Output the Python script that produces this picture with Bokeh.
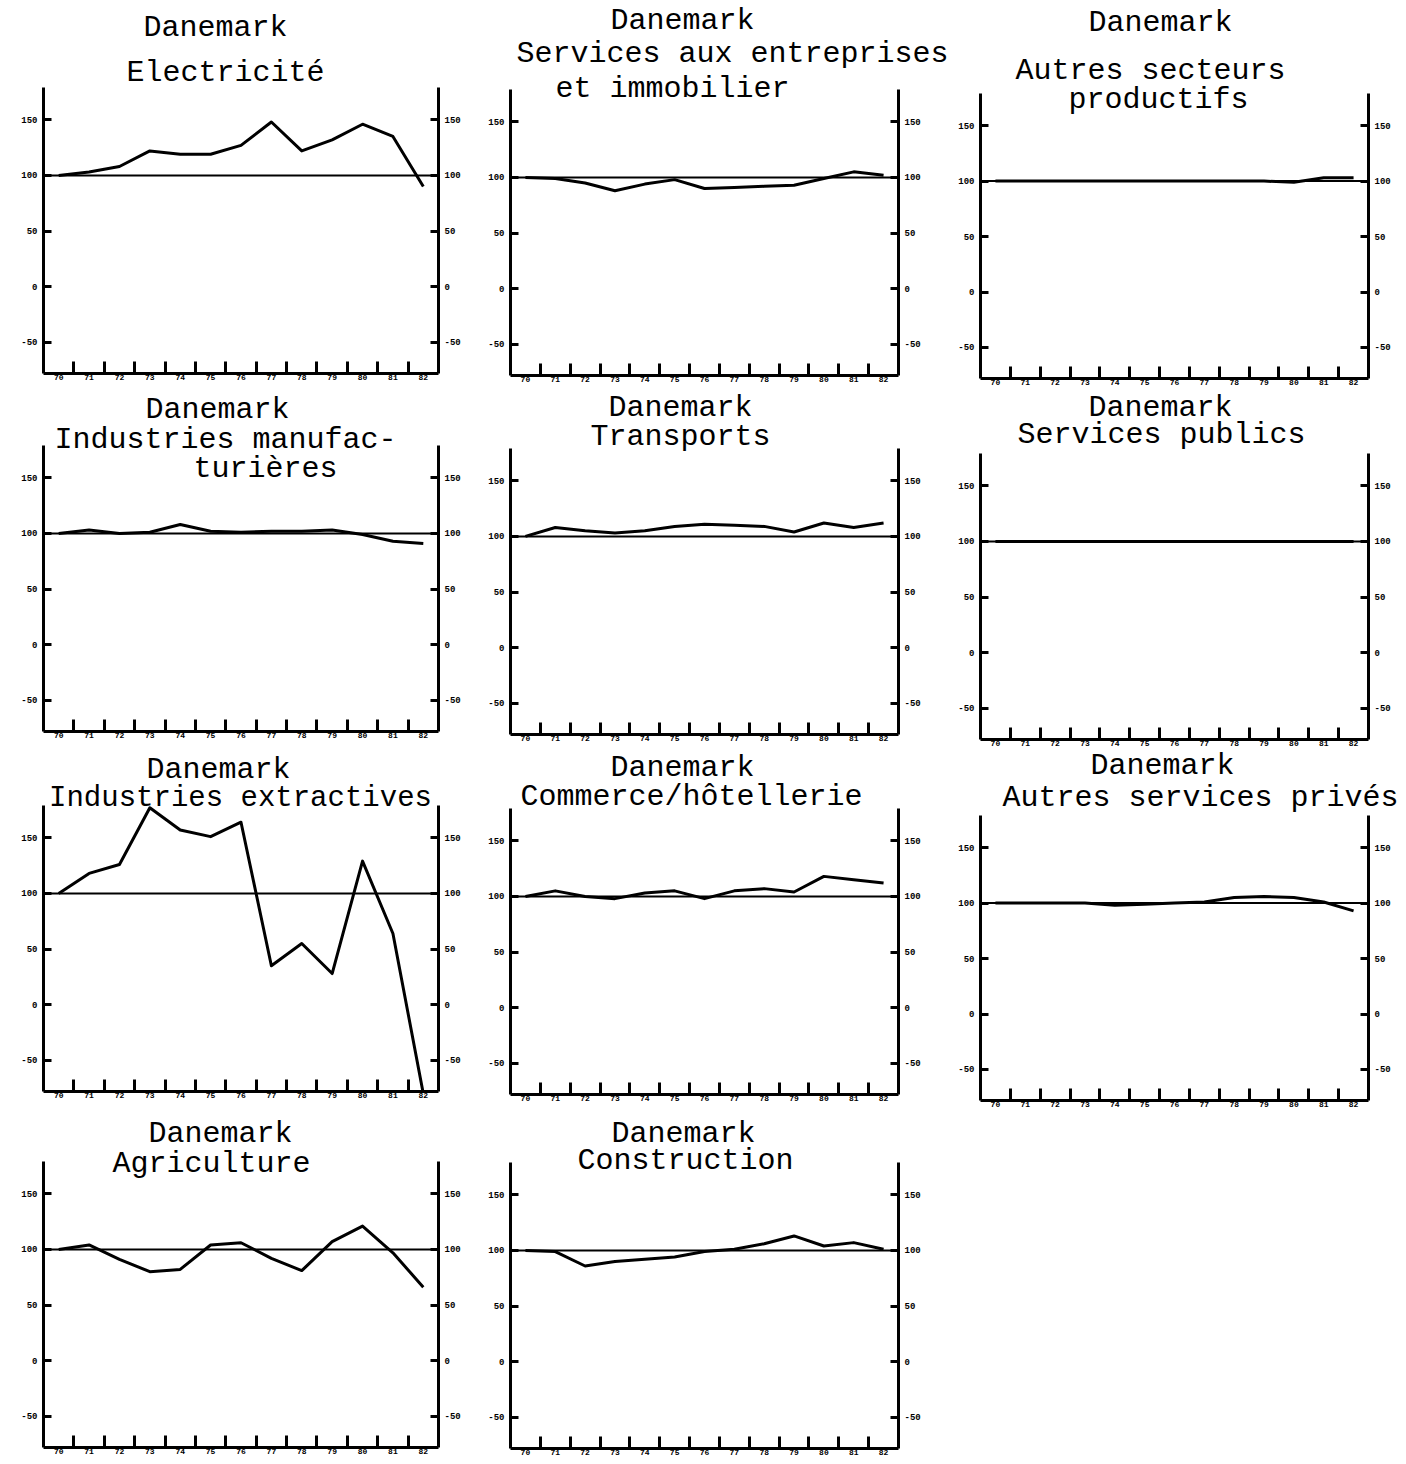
from bokeh.plotting import figure
from bokeh.layouts import row, column
from bokeh.models import LinearAxis, FixedTicker, Span, Label, Range1d, Title
from bokeh.embed import file_html
from bokeh.resources import INLINE

# ---------------- data ----------------
YEARS = [70, 71, 72, 73, 74, 75, 76, 77, 78, 79, 80, 81, 82]
YEAR_LABELS = ["70", "71", "72", "73", "74", "75", "76", "77", "78", "79", "80", "81", "82"]
Y_TICKS = [-50, 0, 50, 100, 150]
Y_TICK_LABELS = ["-50", "0", "50", "100", "150"]
COUNTRY = "Danemark"
BASE = 100

electricite = [100, 103, 108, 122, 119, 119, 127, 148, 122, 132, 146, 135, 90]
services_entreprises = [100, 99, 95, 88, 94, 98, 90, 91, 92, 93, 99, 105, 102]
autres_secteurs = [100, 100, 100, 100, 100, 100, 100, 100, 100, 100, 99, 103, 103]
manufacturieres = [100, 103, 100, 101, 108, 102, 101, 102, 102, 103, 99, 93, 91]
transports = [100, 108, 105, 103, 105, 109, 111, 110, 109, 104, 112, 108, 112]
services_publics = [100, 100, 100, 100, 100, 100, 100, 100, 100, 100, 100, 100, 100]
extractives = [100, 118, 126, 177, 157, 151, 164, 35, 55, 28, 129, 64, -80]
commerce = [100, 105, 100, 98, 103, 105, 98, 105, 107, 104, 118, 115, 112]
autres_services = [100, 100, 100, 100, 98, 99, 100, 101, 105, 106, 105, 101, 93]
agriculture = [100, 104, 91, 80, 82, 104, 106, 92, 81, 107, 121, 97, 66]
construction = [100, 99, 86, 90, 92, 94, 99, 101, 106, 113, 104, 107, 101]

T_ELEC = ["Electricité"]
T_SERV_ENT = ["Services aux entreprises", "et immobilier"]
T_AUTRES_SECT = ["Autres secteurs", "productifs"]
T_MANUF = ["Industries manufac-", "turières"]
T_TRANSP = ["Transports"]
T_PUBLICS = ["Services publics"]
T_EXTRACT = ["Industries extractives"]
T_COMMERCE = ["Commerce/hôtellerie"]
T_AUTRES_SERV = ["Autres services privés"]
T_AGRI = ["Agriculture"]
T_CONSTR = ["Construction"]

# ---------------- layout / style ----------------
FONT = "Liberation Mono"
F = "30px"
CHAR_W = 18          # advance of one 30px monospace character
X_RANGE = (69.5, 82.5)
Y_LO, Y_HI = -78, 179

COL_W = [474, 481, 449]
COL_BL = [43, 36, 25]
COL_BR = [36, 57, 36]


def style_axis(ax, tick_len, font_size):
    ax.axis_line_width = 3
    ax.axis_line_color = "black"
    ax.major_tick_line_width = 3
    ax.major_tick_line_color = "black"
    ax.major_tick_in = tick_len
    ax.major_tick_out = 0
    ax.minor_tick_line_color = None
    ax.major_label_text_font = FONT
    ax.major_label_text_font_style = "bold"
    ax.major_label_text_font_size = font_size
    ax.major_label_text_color = "black"


def base_fig(width, height, x_range, y_range, bl, br, bt, bb):
    p = figure(width=width, height=height, x_range=x_range, y_range=y_range,
               output_backend="svg", toolbar_location=None,
               x_axis_location=None, y_axis_location=None,
               min_border_left=bl, min_border_right=br,
               min_border_top=bt, min_border_bottom=bb)
    p.title.text = ""
    p.title.visible = False
    p.outline_line_color = None
    p.xgrid.visible = False
    p.ygrid.visible = False
    p.background_fill_color = "white"
    p.border_fill_color = "white"
    return p


def side_title(txt, page_center_x, col, standoff):
    frame_left = sum(COL_W[:col]) + COL_BL[col]
    text_left = page_center_x - len(txt) * CHAR_W / 2
    return Title(text=txt, align="left", vertical_align="middle",
                 offset=text_left - frame_left, standoff=standoff,
                 text_font=FONT, text_font_size=F,
                 text_font_style="normal", text_color="black")


def strip(col, fig_top, fig_bottom, label_items, above_items, below_items, bb):
    """Title strip. Short lines may be frame Labels; wide lines are side Titles."""
    h = fig_bottom - fig_top
    frame_left = sum(COL_W[:col]) + COL_BL[col]
    frame_h = h - bb
    p = base_fig(COL_W[col], h, Range1d(0, 1), Range1d(0, 1),
                 COL_BL[col], COL_BR[col], 0, bb)
    for txt, px, py in label_items:
        p.add_layout(Label(x=px - frame_left, y=fig_top + frame_h - py,
                           x_units="screen", y_units="screen", text=txt,
                           text_align="center", text_baseline="middle",
                           text_font=FONT, text_font_size=F,
                           text_color="black"))
    for txt, px, so in above_items:
        p.add_layout(side_title(txt, px, col, so), "above")
    for txt, px, so in below_items:
        p.add_layout(side_title(txt, px, col, so), "below")
    return p


def panel(col, fig_top, axis_top, axis_bottom, fig_bottom, values, titles):
    """titles = list of (text, dx, dy, size) relative to the axes' top-left corner."""
    ppu = (axis_bottom - axis_top) / (Y_HI - Y_LO)
    y_end = Y_HI + (axis_top - fig_top) / ppu
    p = base_fig(COL_W[col], fig_bottom - fig_top,
                 Range1d(*X_RANGE), Range1d(Y_LO, y_end),
                 COL_BL[col], COL_BR[col], 0, fig_bottom - axis_bottom)

    left = LinearAxis(ticker=FixedTicker(ticks=Y_TICKS), bounds=(Y_LO, Y_HI))
    style_axis(left, 8, "9px")
    left.major_label_overrides = dict(zip(Y_TICKS, Y_TICK_LABELS))
    left.major_label_standoff = 6
    p.add_layout(left, "left")

    right = LinearAxis(ticker=FixedTicker(ticks=Y_TICKS), bounds=(Y_LO, Y_HI))
    style_axis(right, 8, "9px")
    right.major_label_overrides = dict(zip(Y_TICKS, Y_TICK_LABELS))
    right.major_label_standoff = 6
    p.add_layout(right, "right")

    half = [(a + b) / 2 for a, b in zip(YEARS[:-1], YEARS[1:])]
    bottom = LinearAxis(ticker=FixedTicker(ticks=YEARS, minor_ticks=half))
    style_axis(bottom, 0, "8px")
    bottom.major_tick_line_color = None
    bottom.minor_tick_line_color = "black"
    bottom.minor_tick_line_width = 3
    bottom.minor_tick_in = 12
    bottom.minor_tick_out = 0
    bottom.major_label_standoff = 1
    bottom.major_label_overrides = dict(zip(YEARS, YEAR_LABELS))
    p.add_layout(bottom, "below")

    p.add_layout(Span(location=BASE, dimension="width",
                      line_color="black", line_width=2))
    p.line(YEARS, values, line_color="black", line_width=3, line_join="round")

    for txt, dx, dy, fs in titles:
        p.add_layout(Label(x=X_RANGE[0], y=Y_HI, x_offset=dx, y_offset=dy,
                           text=txt, text_align="center", text_baseline="middle",
                           text_font=FONT, text_font_size=fs,
                           text_color="black"))
    return p


col1 = column(
    panel(0, 0, 87, 373, 391, electricite,
          [(COUNTRY, 172, 60, F), (T_ELEC[0], 182, 15, F)]),
    panel(0, 391, 445, 731, 752, manufacturieres,
          [(COUNTRY, 174, 36, F), (T_MANUF[0], 182, 6, F), (T_MANUF[1], 222, -23, F)]),
    panel(0, 752, 805, 1091, 1111, extractives,
          [(COUNTRY, 175, 36, F), (T_EXTRACT[0], 197, 7, "29px")]),
    panel(0, 1111, 1161, 1447, 1462, agriculture,
          [(COUNTRY, 177, 28, F), (T_AGRI[0], 168, -2, F)]),
)

col2 = column(
    strip(1, 0, 71, [(COUNTRY, 682, 20)], [], [(T_SERV_ENT[0], 732, 0)], 36),
    panel(1, 71, 89, 375, 390, services_entreprises,
          [(T_SERV_ENT[1], 162, 1, F)]),
    panel(1, 390, 448, 734, 750, transports,
          [(COUNTRY, 170, 41, F), (T_TRANSP[0], 170, 12, F)]),
    panel(1, 750, 808, 1094, 1114, commerce,
          [(COUNTRY, 172, 41, F), (T_COMMERCE[0], 181, 12, F)]),
    panel(1, 1114, 1162, 1448, 1462, construction,
          [(COUNTRY, 173, 29, F), (T_CONSTR[0], 175, 2, F)]),
)

col3 = column(
    panel(2, 0, 93, 378, 390, autres_secteurs,
          [(COUNTRY, 180, 71, F), (T_AUTRES_SECT[0], 170, 23, F), (T_AUTRES_SECT[1], 178, -6, F)]),
    panel(2, 390, 453, 739, 750, services_publics,
          [(COUNTRY, 180, 46, F), (T_PUBLICS[0], 181, 19, F)]),
    strip(2, 750, 815, [], [(COUNTRY, 1162, -6)], [(T_AUTRES_SERV[0], 1200, -1)], 0),
    panel(2, 815, 815, 1100, 1120, autres_services, []),
)

layout = row(col1, col2, col3)

open("out.html", "w").write(file_html(layout, INLINE))
